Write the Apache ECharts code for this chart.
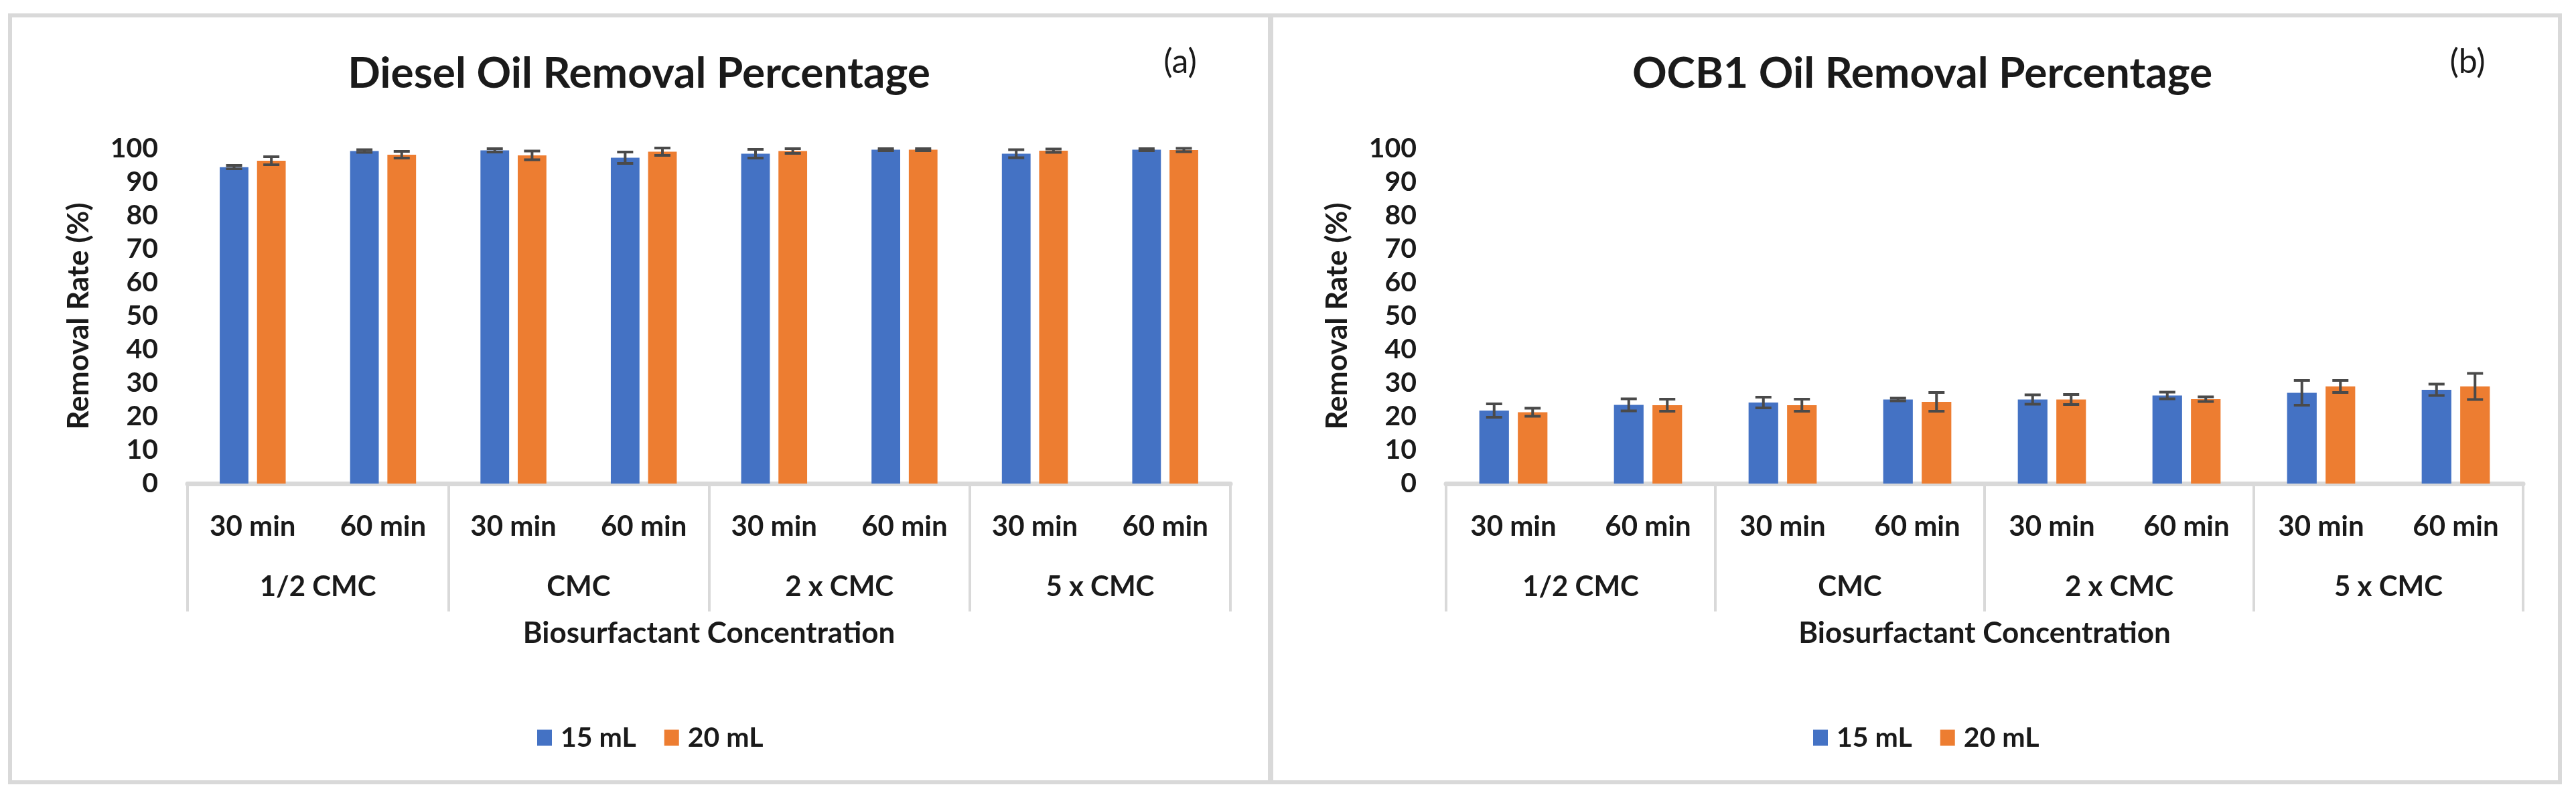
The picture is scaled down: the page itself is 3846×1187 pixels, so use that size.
<!DOCTYPE html>
<html>
<head>
<meta charset="utf-8">
<script src="https://cdn.jsdelivr.net/npm/echarts@6/dist/echarts.min.js"></script>
<style>
html,body{margin:0;padding:0;background:#fff;}
#c{width:3846px;height:1187px;}
</style>
</head>
<body>
<div id="c"></div>
<script>
// ---- data ----
const categories = ['30 min','60 min','30 min','60 min','30 min','60 min','30 min','60 min'];
const groups = ['1/2 CMC','CMC','2 x CMC','5 x CMC'];
const seriesNames = ['15 mL','20 mL'];
const yTickMin = 0, yTickMax = 100, yTickStep = 10;

const diesel15 = [94.5, 99.3, 99.5, 97.3, 98.5, 99.7, 98.5, 99.7];
const diesel15Err = [0.5, 0.4, 0.5, 1.7, 1.3, 0.3, 1.2, 0.3];
const diesel20 = [96.4, 98.2, 98.0, 99.1, 99.3, 99.7, 99.4, 99.6];
const diesel20Err = [1.2, 1.0, 1.3, 1.1, 0.7, 0.3, 0.5, 0.5];

const ocb15 = [21.8, 23.5, 24.2, 25.1, 25.1, 26.3, 27.1, 28.0];
const ocb15Err = [2.0, 1.8, 1.6, 0.4, 1.4, 1.0, 3.7, 1.7];
const ocb20 = [21.3, 23.4, 23.4, 24.4, 25.1, 25.2, 29.0, 29.0];
const ocb20Err = [1.2, 1.8, 1.8, 2.8, 1.5, 0.7, 1.8, 3.9];

const titles = ['Diesel Oil Removal Percentage', 'OCB1 Oil Removal Percentage'];
const panelTags = ['(a)', '(b)'];
const yName = 'Removal Rate (%)';
const xName = 'Biosurfactant Concentration';

// ---- style ----
const BLUE = '#4472C4', ORANGE = '#ED7D31', TXT = '#1a1a1a', GRAY = '#d9d9d9';
const FONT = 'Lato, "Open Sans", sans-serif';
const BAR_W = 0.22, BAR_GAP = 0.30;

const chart = echarts.init(document.getElementById('c'), null, {renderer: 'canvas'});

function errSeries(vals, errs, side, xi, yi) {
  return {
    type: 'custom',
    xAxisIndex: xi, yAxisIndex: yi,
    z: 5,
    silent: true,
    data: vals.map((v, i) => [i, v, errs[i]]),
    renderItem: function (params, api) {
      const i = api.value(0), v = api.value(1), e = api.value(2);
      const band = api.size([1, 0])[0];
      const off = side * band * BAR_W * (1 + BAR_GAP) / 2;
      const top = api.coord([i, v + e]);
      const bot = api.coord([i, v - e]);
      const x = top[0] + off;
      const cap = 12;
      const st = {stroke: '#4a4a4a', lineWidth: 4};
      return {
        type: 'group',
        children: [
          {type: 'line', shape: {x1: x, y1: top[1], x2: x, y2: bot[1]}, style: st},
          {type: 'line', shape: {x1: x - cap, y1: top[1], x2: x + cap, y2: top[1]}, style: st},
          {type: 'line', shape: {x1: x - cap, y1: bot[1], x2: x + cap, y2: bot[1]}, style: st}
        ]
      };
    }
  };
}

function innerX(gi) {
  return {
    type: 'category', gridIndex: gi, data: categories, position: 'bottom',
    axisLine: {show: true, lineStyle: {color: GRAY, width: 7}},
    axisTick: {show: false},
    axisLabel: {interval: 0, margin: 43, fontSize: 42, fontWeight: 'bold', color: TXT, fontFamily: FONT},
    splitLine: {show: false}
  };
}
function outerX(gi) {
  return {
    type: 'category', gridIndex: gi, data: groups, position: 'bottom',
    axisLine: {show: false},
    axisTick: {show: true, length: 191, interval: 0, lineStyle: {color: GRAY, width: 4}},
    axisLabel: {interval: 0, margin: 133, fontSize: 42, fontWeight: 'bold', color: TXT, fontFamily: FONT},
    name: xName, nameLocation: 'middle', nameGap: 202,
    nameTextStyle: {fontSize: 44, fontWeight: 'bold', color: TXT, fontFamily: FONT},
    splitLine: {show: false}
  };
}
function yAx(gi) {
  return {
    type: 'value', gridIndex: gi, min: yTickMin, max: yTickMax, interval: yTickStep,
    axisLine: {show: false}, axisTick: {show: false}, splitLine: {show: false},
    axisLabel: {margin: 44, fontSize: 41, fontWeight: 'bold', color: TXT, fontFamily: FONT},
    name: yName, nameLocation: 'middle', nameGap: 140,
    nameTextStyle: {fontSize: 44, fontWeight: 'bold', color: TXT, fontFamily: FONT}
  };
}
function barSeries(name, vals, color, xi, yi) {
  return {
    type: 'bar', name: name, data: vals, xAxisIndex: xi, yAxisIndex: yi,
    barWidth: (BAR_W * 100) + '%', barGap: (BAR_GAP * 100) + '%',
    itemStyle: {color: color}
  };
}
function legend(left) {
  return {
    left: left, top: 1076, orient: 'horizontal', icon: 'rect',
    itemWidth: 22, itemHeight: 24, itemGap: 42,
    data: seriesNames, selectedMode: false,
    textStyle: {fontSize: 41, fontWeight: 'bold', color: TXT, fontFamily: FONT, padding: [0, 0, 0, 8]}
  };
}
function txt(text, x, y, size, weight) {
  return {type: 'text', x: x, y: y, silent: true,
    style: {text: text, fontSize: size, fontWeight: weight, fontFamily: FONT, fill: TXT,
      align: 'center', verticalAlign: 'middle'}};
}

const option = {
  backgroundColor: '#ffffff',
  animation: false,
  grid: [
    {left: 280, right: 3846 - 1837, top: 222, bottom: 1187 - 722, containLabel: false},
    {left: 2159, right: 3846 - 3767, top: 222, bottom: 1187 - 722, containLabel: false}
  ],
  xAxis: [innerX(0), outerX(0), innerX(1), outerX(1)],
  yAxis: [yAx(0), yAx(1)],
  legend: [legend(797), legend(2702)],
  graphic: [
    {type: 'rect', silent: true, shape: {x: 15, y: 23, width: 3807, height: 1145},
      style: {fill: 'none', stroke: GRAY, lineWidth: 6}},
    {type: 'line', silent: true, shape: {x1: 1897, y1: 23, x2: 1897, y2: 1168},
      style: {stroke: GRAY, lineWidth: 8}},
    txt(titles[0], 954, 110, 64, 'bold'),
    txt(titles[1], 2870, 110, 64, 'bold'),
    txt(panelTags[0], 1762, 93, 50, 'normal'),
    txt(panelTags[1], 3684, 93, 50, 'normal')
  ],
  series: [
    barSeries(seriesNames[0], diesel15, BLUE, 0, 0),
    barSeries(seriesNames[1], diesel20, ORANGE, 0, 0),
    errSeries(diesel15, diesel15Err, -1, 0, 0),
    errSeries(diesel20, diesel20Err, 1, 0, 0),
    barSeries(seriesNames[0], ocb15, BLUE, 2, 1),
    barSeries(seriesNames[1], ocb20, ORANGE, 2, 1),
    errSeries(ocb15, ocb15Err, -1, 2, 1),
    errSeries(ocb20, ocb20Err, 1, 2, 1)
  ]
};
chart.setOption(option);
</script>
</body>
</html>
